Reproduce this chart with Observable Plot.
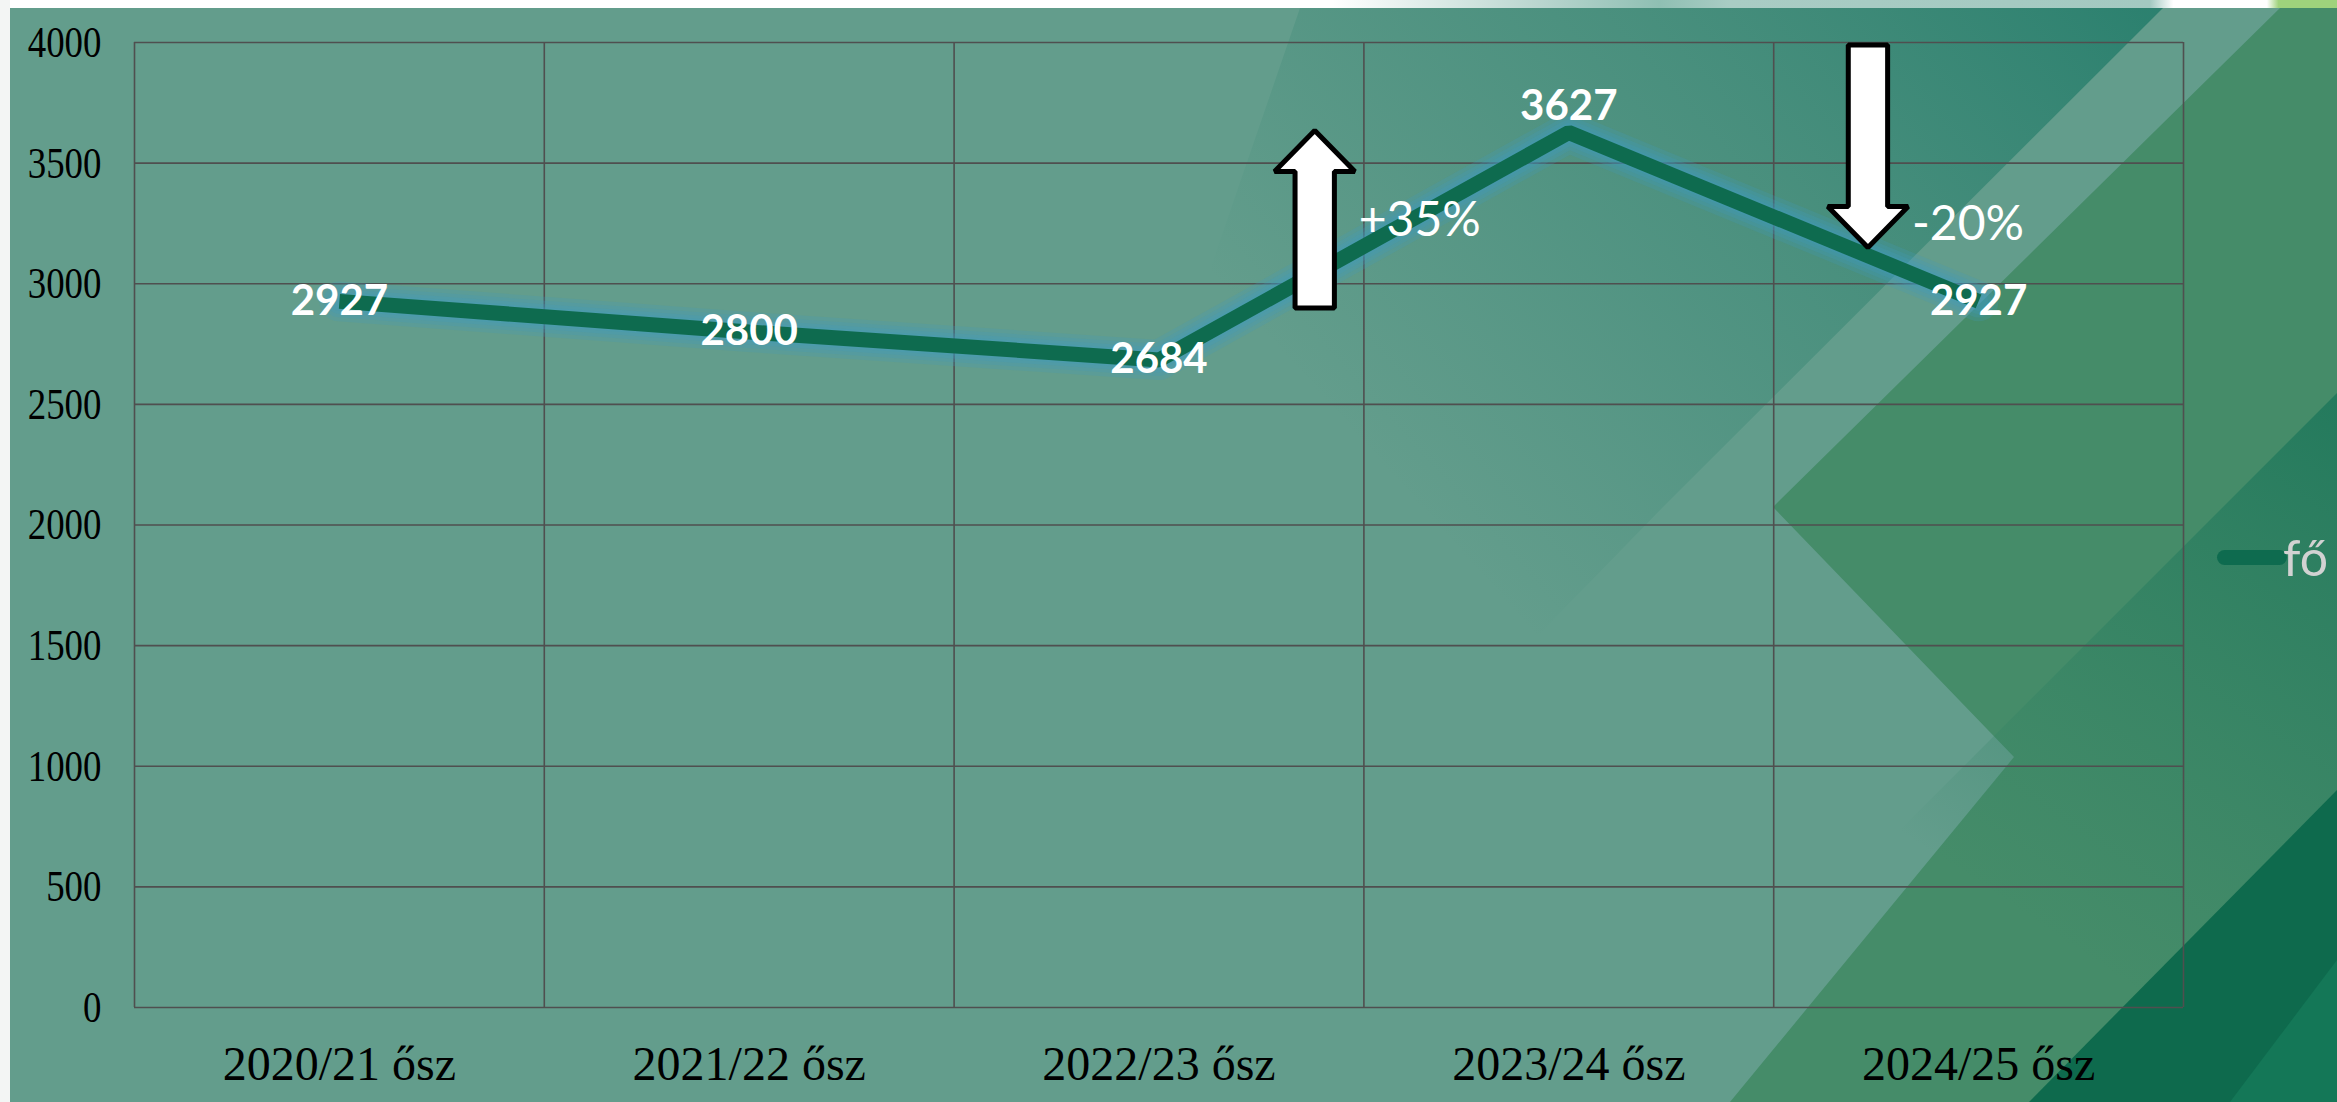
<!DOCTYPE html>
<html>
<head>
<meta charset="utf-8">
<script src="https://cdn.jsdelivr.net/npm/d3@7"></script>
<script src="https://cdn.jsdelivr.net/npm/@observablehq/plot@0.6"></script>
<style>
  html, body { margin: 0; padding: 0; }
  body { width: 2337px; height: 1102px; overflow: hidden; position: relative; background: #ffffff; }
  #bg { position: absolute; left: 0; top: 0; }
  #chart { position: absolute; left: 0; top: 0; }
  #legend { position: absolute; left: 2217px; top: 530px; height: 54px; display: flex; align-items: center; }
  #legend .sw { width: 70px; height: 15px; border-radius: 8px; background: #0e6b4f; }
  #legend .lab { font-family: Lato, "Open Sans", sans-serif; font-size: 50px; color: #d2d2d2; margin-left: -4px; line-height: 54px; }
</style>
</head>
<body>
<svg id="bg" width="2337" height="1102" xmlns="http://www.w3.org/2000/svg">
  <defs>
    <linearGradient id="topStrip" x1="0" x2="1" y1="0" y2="0">
      <stop offset="0" stop-color="#ffffff"/>
      <stop offset="0.57" stop-color="#ffffff"/>
      <stop offset="0.66" stop-color="#b8d5ce"/>
      <stop offset="0.71" stop-color="#8fbfb3"/>
      <stop offset="0.74" stop-color="#a9ccc4"/>
      <stop offset="0.92" stop-color="#a3c9c1"/>
      <stop offset="0.93" stop-color="#ffffff"/>
      <stop offset="0.97" stop-color="#ffffff"/>
      <stop offset="0.975" stop-color="#9fd27c"/>
      <stop offset="1" stop-color="#9fd27c"/>
    </linearGradient>
    <linearGradient id="darkOverlay" gradientUnits="userSpaceOnUse" x1="2150" y1="20" x2="1500" y2="600">
      <stop offset="0" stop-color="#1f7a68" stop-opacity="0.8"/>
      <stop offset="0.45" stop-color="#2a7f6c" stop-opacity="0.45"/>
      <stop offset="1" stop-color="#2a7f6c" stop-opacity="0"/>
    </linearGradient>
    <linearGradient id="midGreen" gradientUnits="userSpaceOnUse" x1="2337" y1="400" x2="2000" y2="900">
      <stop offset="0" stop-color="#247a5d" stop-opacity="1"/>
      <stop offset="1" stop-color="#2f8063" stop-opacity="0"/>
    </linearGradient>
  </defs>
  <rect x="0" y="0" width="2337" height="1102" fill="#639d8c"/>
  <polygon points="1300,8 2163,8 1663,507 1300,880 1000,880" fill="url(#darkOverlay)"/>
  <polygon points="2280,8 2337,8 2337,1102 1730,1102 2014,757 1773,507" fill="#458c69"/>
  <polygon points="2337,393 1628,1102 2337,1102" fill="url(#midGreen)"/>
  <polygon points="2337,790 2337,1102 2029,1102" fill="#0e6a4d"/>
  <polygon points="2337,960 2337,1102 2230,1102" fill="#147757"/>
  <rect x="0" y="0" width="2337" height="8" fill="url(#topStrip)"/>
  <rect x="0" y="0" width="10" height="1102" fill="#f3f5f4"/>
</svg>
<div id="chart"></div>
<div id="legend"><div class="sw"></div><div class="lab">fő</div></div>
<script>
// ---- data ----
const categories = ["2020/21 ősz", "2021/22 ősz", "2022/23 ősz", "2023/24 ősz", "2024/25 ősz"];
const values = [2927, 2800, 2684, 3627, 2927];
const yTicks = [0, 500, 1000, 1500, 2000, 2500, 3000, 3500, 4000];
const seriesName = "fő";

// change annotations (x in category-index units, y in data units)
const changeLabels = ["+35%", "-20%"];
const changeX = [2.38, 3.73];
const changeFrom = [2900, 3990];
const changeTo = [3635, 3150];
const changeLabelY = [3262, 3246];

// ---- derived tables ----
const data = categories.map((c, i) => ({i, category: c, value: values[i]}));
const maxVal = d3.max(values);

const shaftHalf = 0.048, headHalf = 0.098, headLen = 170;
const arrowPts = changeLabels.flatMap((lab, k) => {
  const x = changeX[k], y0 = changeFrom[k], y1 = changeTo[k];
  const dir = Math.sign(y1 - y0);
  const yb = y1 - dir * headLen;
  return [
    [x - shaftHalf, y0], [x + shaftHalf, y0], [x + shaftHalf, yb], [x + headHalf, yb],
    [x, y1], [x - headHalf, yb], [x - shaftHalf, yb]
  ].map(([px, py]) => ({k, px, py}));
});
const changeTable = changeLabels.map((lab, k) => ({label: lab, x: changeX[k], y: changeLabelY[k]}));

// soft halo under the series line, built from a few translucent strokes
const glowLayers = [40, 32, 25, 19].map(w =>
  Plot.line(data, {x: "i", y: "value", stroke: "#3f9cc0", strokeWidth: w, strokeOpacity: 0.22, strokeLinejoin: "round"})
);

const chart = Plot.plot({
  width: 2337,
  height: 1102,
  marginLeft: 134,
  marginRight: 154,
  marginTop: 42,
  marginBottom: 95,
  style: {background: "transparent", color: "#000", overflow: "visible"},
  x: {type: "linear", domain: [-0.5, categories.length - 0.5], axis: null},
  y: {domain: [0, 4000], axis: null},
  marks: [
    Plot.gridX(d3.range(-0.5, categories.length, 1), {stroke: "#4f4f4f", strokeOpacity: 1, strokeWidth: 1.6}),
    Plot.gridY(yTicks, {stroke: "#4f4f4f", strokeOpacity: 1, strokeWidth: 1.6}),
    Plot.axisX(d3.range(categories.length), {
      tickFormat: i => categories[i], tickSize: 0, tickPadding: 38,
      fontSize: 48, fontFamily: "Liberation Serif, Times New Roman, serif", fill: "#000"
    }),
    Plot.axisY(yTicks, {
      tickSize: 0, tickPadding: 33, tickFormat: d => String(d),
      fontSize: 45, fontFamily: "Liberation Serif, Times New Roman, serif", fill: "#000"
    }),
    ...glowLayers,
    Plot.line(data, {x: "i", y: "value", stroke: "#0e6b4f", strokeWidth: 15, strokeLinejoin: "miter", strokeLinecap: "butt"}),
    Plot.line(arrowPts, {x: "px", y: "py", z: "k", curve: "linear-closed", fill: "white", stroke: "black", strokeWidth: 5, strokeLinejoin: "miter"}),
    Plot.text(changeTable, {x: "x", y: "y", text: "label", dx: 44, textAnchor: "start", fill: "white", fontSize: 48, fontFamily: "Lato, Open Sans, sans-serif"}),
    Plot.text(data.filter(d => d.value !== maxVal), {x: "i", y: "value", text: d => String(d.value), fill: "white", fontSize: 42, fontWeight: "bold", fontFamily: "Lato, Open Sans, sans-serif"}),
    Plot.text(data.filter(d => d.value === maxVal), {x: "i", y: "value", text: d => String(d.value), dy: -26, fill: "white", fontSize: 42, fontWeight: "bold", fontFamily: "Lato, Open Sans, sans-serif"})
  ]
});
document.getElementById("chart").appendChild(chart);

// condensed look of the y tick labels
const yg = chart.querySelector('g[aria-label="y-axis tick label"]');
if (yg) {
  yg.querySelectorAll("text").forEach(t => {
    const tr = t.getAttribute("transform");
    if (tr) t.setAttribute("transform", tr + " scale(0.82,1)");
    else {
      const x = +t.getAttribute("x") || 0, y = +t.getAttribute("y") || 0;
      t.removeAttribute("x"); t.removeAttribute("y");
      t.setAttribute("transform", `translate(${x},${y}) scale(0.82,1)`);
    }
  });
}
document.querySelector("#legend .lab").textContent = seriesName;
</script>
</body>
</html>
